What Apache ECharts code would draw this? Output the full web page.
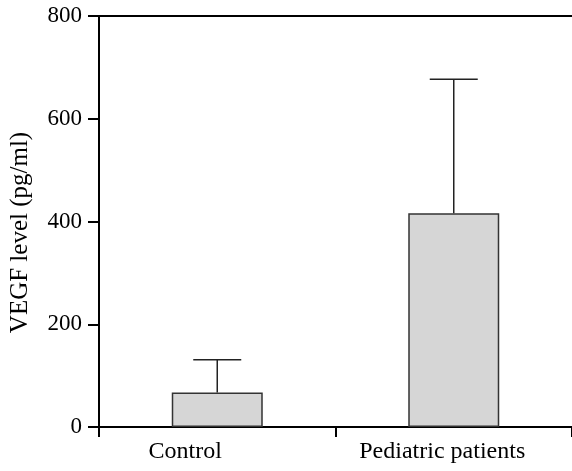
<!DOCTYPE html>
<html>
<head>
    <meta charset="utf-8">
    <title>VEGF level</title>
    <script src="https://cdn.jsdelivr.net/npm/echarts@6/dist/echarts.min.js"></script>
    <style>
        html, body { margin: 0; padding: 0; background: #fff; }
        #chart1 { width: 572px; height: 471px; }
    </style>
</head>
<body>
<div id="chart1"></div>
<script type="text/javascript">
    // data
    let groups = ['Control', 'Pediatric patients'];
    let means = [67, 416];
    let sdUpper = [64, 261];   // length of the upper error bar
    let yTicks = [0, 200, 400, 600, 800];

    let font = 'Liberation Serif';

    let errData = groups.map(function (g, i) {
        return [i, means[i], means[i] + sdUpper[i]];
    });

    // labels in the original sit a bit left of the bar centres
    let labelShift = [64, 23];
    let catData = groups.map(function (g, i) {
        return { value: g, textStyle: { padding: [0, labelShift[i], 0, 0] } };
    });

    let myChart1 = echarts.init(document.getElementById('chart1'));

    myChart1.setOption({
        animation: false,
        grid: { left: 97, right: -1, top: 16, bottom: 44 },
        xAxis: [{
            type: 'category',
            data: catData,
            axisLine: { lineStyle: { color: '#000', width: 2 } },
            axisTick: { show: true, length: 10, lineStyle: { color: '#000', width: 2 } },
            axisLabel: { color: '#000', fontFamily: font, fontSize: 24, margin: 13 }
        }, {
            type: 'category',
            position: 'top',
            data: groups,
            axisLine: { show: true, lineStyle: { color: '#000', width: 2 } },
            axisTick: { show: false },
            axisLabel: { show: false }
        }],
        yAxis: {
            type: 'value',
            min: yTicks[0],
            max: yTicks[yTicks.length - 1],
            interval: 200,
            name: 'VEGF level (pg/ml)',
            nameLocation: 'middle',
            nameGap: 66,
            nameTextStyle: { color: '#000', fontFamily: font, fontSize: 25, padding: [0, 22, 0, 0] },
            axisLine: { show: true, lineStyle: { color: '#000', width: 2 } },
            axisTick: { show: true, length: 11, lineStyle: { color: '#000', width: 2 } },
            axisLabel: { color: '#000', fontFamily: font, fontSize: 23, margin: 17 },
            splitLine: { show: false }
        },
        series: [{
            type: 'bar',
            data: means,
            barWidth: 91,
            itemStyle: { color: '#d6d6d6', borderColor: '#333', borderWidth: 1.5 },
            z: 2
        }, {
            type: 'custom',
            data: errData,
            z: 3,
            renderItem: function (params, api) {
                let top = api.coord([api.value(0), api.value(2)]);
                let base = api.coord([api.value(0), api.value(1)]);
                let half = 24;
                let st = { stroke: '#222', lineWidth: 1.5 };
                return {
                    type: 'group',
                    children: [
                        { type: 'line', shape: { x1: base[0], y1: base[1], x2: top[0], y2: top[1] }, style: st },
                        { type: 'line', shape: { x1: top[0] - half, y1: top[1], x2: top[0] + half, y2: top[1] }, style: st }
                    ]
                };
            }
        }]
    });
</script>
</body>
</html>
